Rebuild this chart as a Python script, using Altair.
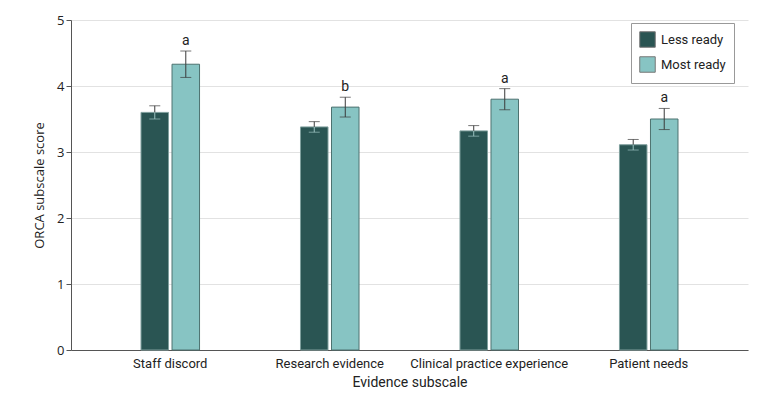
import altair as alt
import pandas as pd

categories = ["Staff discord", "Research evidence", "Clinical practice experience", "Patient needs"]
groups = ["Less ready", "Most ready"]
less_vals = [3.60, 3.38, 3.32, 3.11]
less_err = [0.10, 0.08, 0.08, 0.08]
most_vals = [4.33, 3.68, 3.80, 3.50]
most_err = [0.20, 0.15, 0.16, 0.16]
sig_letters = ["a", "b", "a", "a"]

rows = []
for i, c in enumerate(categories):
    rows.append(dict(cat=c, group="Less ready", v=less_vals[i], lo=less_vals[i] - less_err[i],
                     hi=less_vals[i] + less_err[i], lowcol="#9cc2c1", sig=""))
    rows.append(dict(cat=c, group="Most ready", v=most_vals[i], lo=most_vals[i] - most_err[i],
                     hi=most_vals[i] + most_err[i], lowcol="#3a3a3a", sig=sig_letters[i]))
df = pd.DataFrame(rows)

FONT = "'Roboto', sans-serif"
AXFONT = "'Open Sans', 'Noto Sans', sans-serif"

xenc = alt.X("cat:N", sort=categories,
             scale=alt.Scale(paddingInner=0.633, paddingOuter=0.439),
             axis=alt.Axis(title="Evidence subscale", labelAngle=0, ticks=False,
                           domainColor="#555", labelFont=FONT, labelFontSize=13,
                           labelColor="#222", titleFont=FONT, titleFontSize=14,
                           titleFontWeight="normal", titleColor="#222", labelPadding=7,
                           titlePadding=5))
xoff = alt.XOffset("group:N", sort=groups, scale=alt.Scale(paddingInner=0.113))
yscale = alt.Scale(domain=[0, 5])

base = alt.Chart(df)

bars = base.mark_bar(strokeWidth=1).encode(
    x=xenc,
    xOffset=xoff,
    y=alt.Y("v:Q", scale=yscale,
            axis=alt.Axis(title="ORCA subscale score", values=[0, 1, 2, 3, 4, 5], format="d",
                          grid=True, gridColor="#e2e2e2", domainColor="#555",
                          tickColor="#555", tickSize=5, labelFont=AXFONT,
                          labelFontSize=13, labelColor="#222", titleFont=AXFONT,
                          titleFontSize=13, titleFontWeight="normal", titleColor="#222",
                          titlePadding=10)),
    color=alt.Color("group:N", sort=groups,
                    scale=alt.Scale(domain=groups, range=["#2a5553", "#87c4c3"]),
                    legend=alt.Legend(title=None, orient="none", legendX=560, legendY=3,
                                      fillColor="white", strokeColor="#999",
                                      padding=8, symbolType="square", symbolSize=240,
                                      symbolStrokeColor="#777", symbolStrokeWidth=1,
                                      labelFont=FONT, labelFontSize=13, labelColor="#222",
                                      rowPadding=4, labelOffset=5)),
    stroke=alt.Stroke("group:N", sort=groups,
                      scale=alt.Scale(domain=groups, range=["#7f9f9d", "#4d7270"]),
                      legend=None),
)

upper = base.mark_rule(color="#3a3a3a", strokeWidth=1).encode(
    x=xenc, xOffset=xoff, y=alt.Y("v:Q", scale=yscale), y2="hi:Q")
lower = base.mark_rule(strokeWidth=1).encode(
    x=xenc, xOffset=xoff, y=alt.Y("lo:Q", scale=yscale), y2="v:Q",
    color=alt.Color("lowcol:N", scale=None))
cap_hi = base.mark_tick(color="#3a3a3a", size=11, thickness=1, orient="horizontal").encode(
    x=xenc, xOffset=xoff, y=alt.Y("hi:Q", scale=yscale))
cap_lo = base.mark_tick(size=11, thickness=1, orient="horizontal").encode(
    x=xenc, xOffset=xoff, y=alt.Y("lo:Q", scale=yscale),
    color=alt.Color("lowcol:N", scale=None))
letters = base.mark_text(baseline="bottom", dy=-3, font=FONT, fontSize=14, color="#222").encode(
    x=xenc, xOffset=xoff, y=alt.Y("hi:Q", scale=yscale), text="sig:N")

chart = alt.layer(bars, upper, lower, cap_hi, cap_lo, letters).resolve_scale(
    color="independent"
).properties(
    width=677, height=330,
    autosize=alt.AutoSizeParams(type="none"),
    padding={"left": 63, "top": 12, "right": 24, "bottom": 47},
    background="white",
).configure_view(stroke=None)

chart.save("out.html", embed_options={"renderer": "svg", "actions": False})
